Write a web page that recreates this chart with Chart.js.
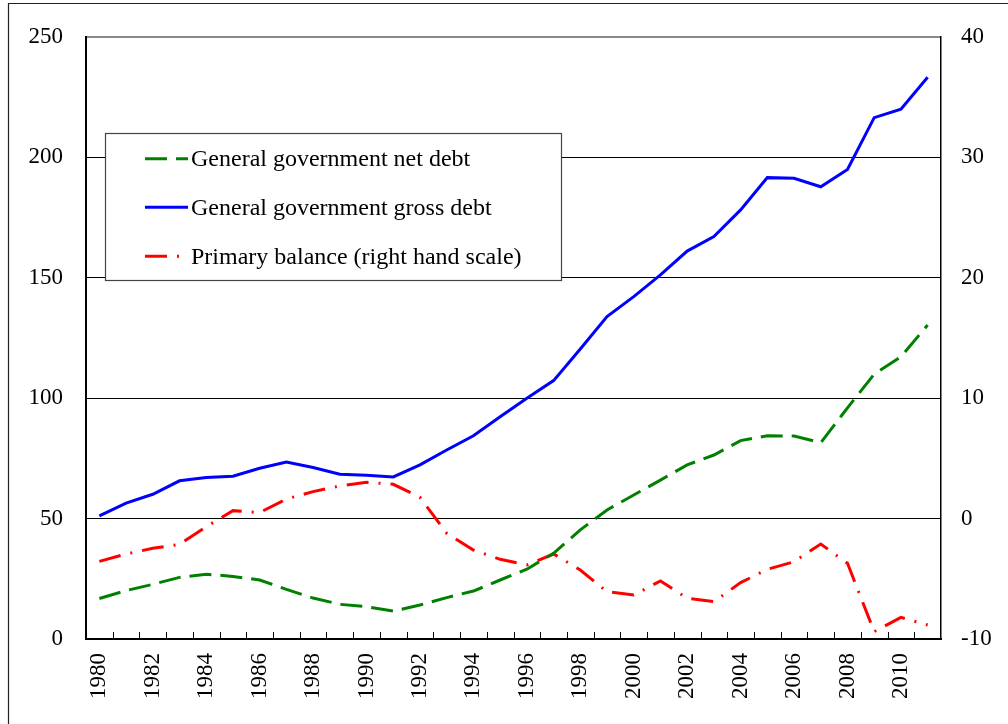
<!DOCTYPE html>
<html>
<head>
<meta charset="utf-8">
<script src="https://cdn.jsdelivr.net/npm/chart.js@4.4.0/dist/chart.umd.min.js"></script>
<style>
html,body{margin:0;padding:0;background:#fff;}
#wrap{position:relative;width:1008px;height:724px;}
</style>
</head>
<body>
<div id="wrap"><canvas id="c" width="1008" height="724"></canvas></div>
<script>
const years = [1980,1981,1982,1983,1984,1985,1986,1987,1988,1989,1990,1991,1992,1993,1994,1995,1996,1997,1998,1999,2000,2001,2002,2003,2004,2005,2006,2007,2008,2009,2010,2011];
const netDebt = [16.8,20.1,22.7,25.6,26.9,26.0,24.5,20.6,17.0,14.4,13.4,11.6,14.1,17.2,19.9,24.5,29.0,35.6,45.3,53.6,59.8,66.0,72.3,76.4,82.4,84.4,84.3,81.5,96.0,110.0,117.2,130.4];
const grossDebt = [51.1,56.4,60.1,65.7,67.1,67.6,70.9,73.5,71.2,68.4,68.0,67.3,72.3,78.5,84.4,92.3,100.0,107.3,120.4,133.9,142.2,151.2,161.1,167.1,178.2,191.6,191.3,187.8,195.0,216.5,220.0,233.3];
const primaryBalance = [-3.55,-2.94,-2.47,-2.14,-0.67,0.66,0.5,1.63,2.24,2.71,3.01,2.85,1.77,-1.22,-2.61,-3.38,-3.85,-2.94,-4.27,-6.07,-6.35,-5.18,-6.62,-6.90,-5.32,-4.21,-3.58,-2.11,-3.71,-9.39,-8.20,-8.84];
const seriesNames = ['General government net debt','General government gross debt','Primary balance (right hand scale)'];
const leftTicks = [0,50,100,150,200,250];
const rightTicks = [-10,0,10,20,30,40];

const FONT = 'Liberation Serif';

const frame = {
  id:'frame',
  beforeDraw(chart){
    const c = chart.ctx;
    c.save();
    c.fillStyle='#fff'; c.fillRect(0,0,chart.width,chart.height);
    c.strokeStyle='#222'; c.lineWidth=1.2;
    c.beginPath(); c.moveTo(8.5,724); c.lineTo(8.5,3.5); c.lineTo(1008,3.5); c.stroke();
    c.restore();
  }
};

const innerTicks = {
  id:'innerTicks',
  afterDatasetsDraw(chart){
    const x = chart.scales.x, c = chart.ctx, bottom = chart.chartArea.bottom;
    c.save(); c.strokeStyle='#000'; c.lineWidth=1;
    c.beginPath();
    for(let i=1;i<years.length;i++){
      const px = Math.round((x.getPixelForValue(i-1)+x.getPixelForValue(i))/2)+0.5;
      c.moveTo(px,bottom); c.lineTo(px,bottom-7);
    }
    c.stroke(); c.restore();
  }
};

const boxLegend = {
  id:'boxLegend',
  afterDraw(chart){
    const c = chart.ctx;
    c.save();
    c.fillStyle='#fff'; c.fillRect(105.5,133.5,456,147);
    c.strokeStyle='#444'; c.lineWidth=1.2; c.strokeRect(105.5,133.5,456,147);
    const rows=[158.7,207.3,256.3];
    chart.data.datasets.forEach((ds,i)=>{
      c.strokeStyle=ds.borderColor; c.lineWidth=3;
      c.setLineDash(ds.borderDash||[]);
      c.beginPath(); c.moveTo(145,rows[i]); c.lineTo(188,rows[i]); c.stroke();
      c.setLineDash([]);
      c.fillStyle='#000'; c.font='24px "'+FONT+'"'; c.textBaseline='middle'; c.textAlign='left';
      c.fillText(ds.label,191,rows[i]+1);
    });
    c.restore();
  }
};

new Chart(document.getElementById('c'),{
  type:'line',
  data:{
    labels:years,
    datasets:[
      {label:seriesNames[0],data:netDebt,borderColor:'#008000',borderWidth:3,borderDash:[22,9],pointRadius:0,tension:0,yAxisID:'y',fill:false},
      {label:seriesNames[1],data:grossDebt,borderColor:'#0000ff',borderWidth:3,pointRadius:0,tension:0,yAxisID:'y',fill:false},
      {label:seriesNames[2],data:primaryBalance,borderColor:'#ff0000',borderWidth:3,borderDash:[22,10,2,10],pointRadius:0,tension:0,yAxisID:'y1',fill:false}
    ]
  },
  options:{
    responsive:false,animation:false,
    layout:{padding:{top:37,left:0,right:0,bottom:0}},
    plugins:{legend:{display:false},tooltip:{enabled:false},title:{display:false}},
    scales:{
      x:{
        offset:true,
        grid:{display:true,offset:true,drawOnChartArea:false,drawTicks:false},
        border:{display:true,color:'#000',width:2},
        ticks:{autoSkip:false,minRotation:90,maxRotation:90,padding:14,color:'#000',font:{family:FONT,size:23},
          callback:function(v,i){return i%2===0?String(years[i]):'';}},
        afterFit(s){s.height=85;}
      },
      y:{
        position:'left',min:0,max:250,
        afterBuildTicks(s){s.ticks=leftTicks.map(v=>({value:v}));},
        grid:{drawTicks:false,color:(ctx)=>ctx.tick&&ctx.tick.value===250?'#888':'#000',lineWidth:(ctx)=>ctx.tick&&ctx.tick.value===250?2:1},
        border:{display:true,color:'#000',width:2},
        ticks:{padding:23,color:'#000',font:{family:FONT,size:23}},
        afterFit(s){s.width=86;}
      },
      y1:{
        position:'right',min:-10,max:40,
        afterBuildTicks(s){s.ticks=rightTicks.map(v=>({value:v}));},
        grid:{drawOnChartArea:false,drawTicks:false},
        border:{display:true,color:'#000',width:1.5},
        ticks:{padding:20,color:'#000',font:{family:FONT,size:23}},
        afterFit(s){s.width=67;}
      }
    }
  },
  plugins:[frame,innerTicks,boxLegend]
});
</script>
</body>
</html>
